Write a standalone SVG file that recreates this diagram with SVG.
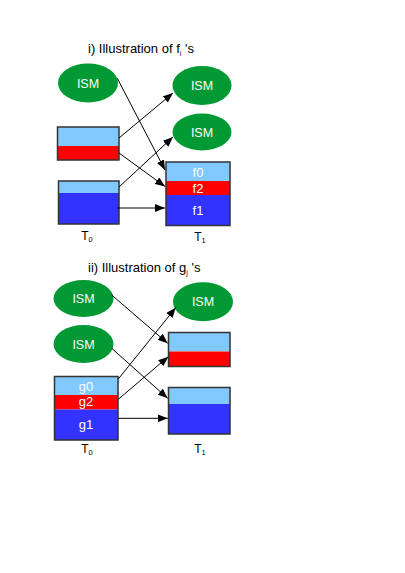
<svg xmlns="http://www.w3.org/2000/svg" width="405" height="573" viewBox="0 0 405 573">
<style>
text{font-family:"Liberation Sans",Arial,sans-serif}
.title{font-size:13px;fill:#000}
.lbl{font-size:12px;fill:#000;text-anchor:middle}
.ism{fill:#009933}
.wt{font-size:12.5px;fill:#fff;text-anchor:middle}
.bt{font-size:13px;fill:#fff;text-anchor:middle}
.lb{fill:#80c8ff}
.rd{fill:#ff0000}
.bl{fill:#3333ff}
.frame{fill:none;stroke:#333;stroke-width:1.5}
.conn line{stroke:#000;stroke-width:1;marker-end:url(#ah)}
</style>
<defs>
<marker id="ah" viewBox="0 0 10 8" refX="10" refY="4" markerWidth="10" markerHeight="8" markerUnits="userSpaceOnUse" orient="auto">
<path d="M0,0 L10,4 L0,8 z" fill="#000"/>
</marker>
</defs>
<rect width="405" height="573" fill="#fff"/>

<text class="title" x="88" y="52.5">i) Illustration of f<tspan font-size="7" dy="3">i</tspan><tspan dy="-3"> 's</tspan></text>
<text class="title" x="88" y="272">ii) Illustration of g<tspan font-size="7" dy="3">j</tspan><tspan dy="-3"> 's</tspan></text>

<!-- Section i -->
<g id="ism-a1"><ellipse class="ism" cx="88" cy="83" rx="30" ry="19.5"/><text class="wt" x="88" y="87.5">ISM</text></g>
<g id="ism-a2"><ellipse class="ism" cx="202" cy="85.5" rx="29.5" ry="19.5"/><text class="wt" x="202" y="90">ISM</text></g>
<g id="ism-a3"><ellipse class="ism" cx="202" cy="132" rx="29.5" ry="18.5"/><text class="wt" x="202" y="136.5">ISM</text></g>

<g id="box-a1">
<rect class="lb" x="57.5" y="127" width="61.5" height="19"/>
<rect class="rd" x="57.5" y="146" width="61.5" height="14"/>
<rect class="frame" x="57.5" y="127" width="61.5" height="33"/>
</g>
<g id="box-a2">
<rect class="lb" x="58.5" y="181" width="60.5" height="12"/>
<rect class="bl" x="58.5" y="193" width="60.5" height="31"/>
<rect class="frame" x="58.5" y="181" width="60.5" height="43"/>
</g>
<g id="box-a3">
<rect class="lb" x="166" y="162" width="64" height="19"/>
<rect class="rd" x="166" y="181" width="64" height="14"/>
<rect class="bl" x="166" y="195" width="64" height="30.5"/>
<rect class="frame" x="166" y="162" width="64" height="63.5"/>
<text class="bt" x="198" y="176.5">f0</text>
<text class="bt" x="198" y="192.5">f2</text>
<text class="bt" x="198" y="215">f1</text>
</g>
<text class="lbl" x="87" y="240">T<tspan font-size="7.5" dy="2">0</tspan></text>
<text class="lbl" x="200" y="241">T<tspan font-size="7.5" dy="2">1</tspan></text>

<!-- Section ii -->
<g id="ism-b1"><ellipse class="ism" cx="83.5" cy="298.5" rx="30" ry="18.5"/><text class="wt" x="83.5" y="303">ISM</text></g>
<g id="ism-b2"><ellipse class="ism" cx="83.5" cy="344" rx="30" ry="19"/><text class="wt" x="83.5" y="348.5">ISM</text></g>
<g id="ism-b3"><ellipse class="ism" cx="203" cy="301.7" rx="30" ry="19.5"/><text class="wt" x="203" y="306.2">ISM</text></g>

<g id="box-b1">
<rect class="lb" x="54.5" y="376.5" width="63.5" height="18.5"/>
<rect class="rd" x="54.5" y="395" width="63.5" height="14.5"/>
<rect class="bl" x="54.5" y="409.5" width="63.5" height="30.5"/>
<rect class="frame" x="54.5" y="376.5" width="63.5" height="63.5"/>
<text class="bt" x="86" y="390.5">g0</text>
<text class="bt" x="86" y="406">g2</text>
<text class="bt" x="86" y="429">g1</text>
</g>
<g id="box-b2">
<rect class="lb" x="168.5" y="332.5" width="61.5" height="19"/>
<rect class="rd" x="168.5" y="351.5" width="61.5" height="15"/>
<rect class="frame" x="168.5" y="332.5" width="61.5" height="34"/>
</g>
<g id="box-b3">
<rect class="lb" x="168.5" y="387.5" width="61.5" height="16.5"/>
<rect class="bl" x="168.5" y="404" width="61.5" height="30"/>
<rect class="frame" x="168.5" y="387.5" width="61.5" height="46.5"/>
</g>
<text class="lbl" x="87" y="453">T<tspan font-size="7.5" dy="2">0</tspan></text>
<text class="lbl" x="200" y="453">T<tspan font-size="7.5" dy="2">1</tspan></text>

<g id="connectors" class="conn">
<line x1="117.3" y1="78.3" x2="165" y2="170"/>
<line x1="119" y1="153" x2="165" y2="186.5"/>
<line x1="119" y1="138" x2="173" y2="93"/>
<line x1="119" y1="187" x2="173" y2="137"/>
<line x1="117" y1="208" x2="165" y2="208"/>
<line x1="111.7" y1="295" x2="167.7" y2="343.3"/>
<line x1="111.7" y1="348.3" x2="167.7" y2="398.3"/>
<line x1="118.3" y1="379" x2="175.7" y2="307.7"/>
<line x1="118.3" y1="399.3" x2="168.3" y2="356.7"/>
<line x1="118.3" y1="418.3" x2="167.7" y2="418.3"/>
</g>
</svg>
